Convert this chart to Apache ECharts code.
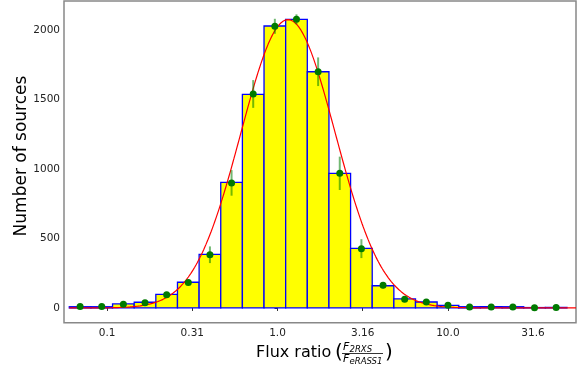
<!DOCTYPE html>
<html><head><meta charset="utf-8">
<script src="https://cdn.jsdelivr.net/npm/echarts@6/dist/echarts.min.js"></script>
<style>html,body{margin:0;padding:0;background:#fff}#c{width:581px;height:376px}</style>
</head><body><div id="c"></div>
<script>
// log10(flux ratio) bin edges
const binEdges = [-1.222, -1.095, -0.968, -0.841, -0.714, -0.587, -0.460, -0.333, -0.206, -0.079,
  0.048, 0.175, 0.302, 0.429, 0.556, 0.683, 0.810, 0.937, 1.064, 1.191, 1.318, 1.445, 1.572, 1.699];
const counts = [9, 9, 29, 41, 98, 185, 386, 904, 1537, 2029, 2077, 1700, 969, 429, 160, 65, 43, 19, 9, 10, 9, 3, 4];
const meanCounts = [11, 11, 27, 38, 96, 184, 383, 900, 1540, 2027, 2077, 1700, 969, 427, 163, 63, 43, 19, 7, 7, 7, 2, 4];
const errors = [3, 3, 5, 6, 10, 20, 60, 92, 100, 54, 36, 103, 120, 68, 22, 8, 6, 3, 2, 2, 2, 1, 1];
const xTickValues = [-1, -0.5, 0, 0.5, 1, 1.5];
const xTickLabels = ['0.1', '0.31', '1.0', '3.16', '10.0', '31.6'];
const yTickValues = [0, 500, 1000, 1500, 2000];
const yTickLabels = ['0', '500', '1000', '1500', '2000'];
// Gaussian fit parameters (in log10 space)
const fitAmplitude = 2075, fitMean = 0.062, fitSigma = 0.277;
const fitRange = [-1.222, 1.752];

const barData = counts.map((c, i) => [binEdges[i], binEdges[i + 1], c]);
const centers = counts.map((c, i) => (binEdges[i] + binEdges[i + 1]) / 2);
const errData = meanCounts.map((m, i) => [centers[i], m, errors[i]]);
const dotData = meanCounts.map((m, i) => [centers[i], m]);
const fitData = [];
for (let k = 0; k <= 400; k++) {
  const x = fitRange[0] + (fitRange[1] - fitRange[0]) * k / 400;
  fitData.push([x, fitAmplitude * Math.exp(-Math.pow(x - fitMean, 2) / (2 * fitSigma * fitSigma))]);
}
const pick = (vals, labels) => v => { const i = vals.findIndex(t => Math.abs(t - v) < 1e-6); return i >= 0 ? labels[i] : ''; };

const FONT = 'DejaVu Sans';
const chart = echarts.init(document.getElementById('c'), null, {renderer: 'canvas'});
chart.setOption({
  animation: false,
  backgroundColor: '#fff',
  grid: {left: 64, right: 5, top: 1, bottom: 53.3, show: true, borderColor: '#888', borderWidth: 1.5, backgroundColor: 'transparent'},
  xAxis: {
    type: 'value', min: -1.253, max: 1.752,
    axisLine: {show: false},
    splitLine: {show: false},
    axisTick: {show: true, customValues: xTickValues, length: 3, lineStyle: {color: '#333', width: 1}},
    axisLabel: {customValues: xTickValues, margin: 5, fontFamily: FONT, fontSize: 10.5, color: '#222',
      formatter: pick(xTickValues, xTickLabels)}
  },
  yAxis: {
    type: 'value', min: -106, max: 2209,
    axisLine: {show: false},
    splitLine: {show: false},
    axisTick: {show: true, customValues: yTickValues, length: 3, lineStyle: {color: '#333', width: 1}},
    axisLabel: {customValues: yTickValues, margin: 4, fontFamily: FONT, fontSize: 10.5, color: '#222',
      formatter: pick(yTickValues, yTickLabels)}
  },
  series: [
    {
      type: 'custom', z: 1, data: barData, encode: {x: [0, 1], y: 2},
      renderItem: (params, api) => {
        const p0 = api.coord([api.value(0), 0]);
        const p1 = api.coord([api.value(1), api.value(2)]);
        return {type: 'rect', shape: {x: p0[0], y: p1[1], width: p1[0] - p0[0], height: p0[1] - p1[1]},
          style: {fill: '#ffff00', stroke: '#0000ff', lineWidth: 1.3}};
      }
    },
    {
      type: 'line', z: 2, data: fitData, showSymbol: false, symbol: 'none', clip: true,
      lineStyle: {color: '#ff0000', width: 1.2}
    },
    {
      type: 'custom', z: 3, data: errData, encode: {x: 0, y: 1},
      renderItem: (params, api) => {
        const a = api.coord([api.value(0), api.value(1) - api.value(2)]);
        const b = api.coord([api.value(0), api.value(1) + api.value(2)]);
        return {type: 'line', shape: {x1: a[0], y1: a[1], x2: b[0], y2: b[1]},
          style: {stroke: 'rgba(0,128,0,0.55)', lineWidth: 2}};
      }
    },
    {
      type: 'scatter', z: 4, data: dotData, symbol: 'circle', symbolSize: 7,
      itemStyle: {color: '#007a00', opacity: 1}
    }
  ],
  graphic: [
    {type: 'text', x: 22, y: 156, rotation: Math.PI / 2,
      style: {text: 'Number of sources', fontFamily: FONT, fontSize: 17, fill: '#000', align: 'center', verticalAlign: 'middle'}},
    {type: 'text', x: 256, y: 353, style: {text: 'Flux ratio', fontFamily: FONT, fontSize: 16, fill: '#000', align: 'left', verticalAlign: 'middle'}},
    {type: 'text', x: 335, y: 353, style: {text: '(', fontFamily: FONT, fontSize: 20, fill: '#000', align: 'left', verticalAlign: 'middle'}},
    {type: 'text', x: 343, y: 347.5, style: {text: 'F', fontFamily: FONT, fontStyle: 'italic', fontSize: 11, fill: '#000', align: 'left', verticalAlign: 'middle'}},
    {type: 'text', x: 349.5, y: 349.5, style: {text: '2RXS', fontFamily: FONT, fontStyle: 'italic', fontSize: 8.5, fill: '#000', align: 'left', verticalAlign: 'middle'}},
    {type: 'line', shape: {x1: 342, y1: 353.5, x2: 383, y2: 353.5}, style: {stroke: '#000', lineWidth: 0.8}},
    {type: 'text', x: 343, y: 359.5, style: {text: 'F', fontFamily: FONT, fontStyle: 'italic', fontSize: 11, fill: '#000', align: 'left', verticalAlign: 'middle'}},
    {type: 'text', x: 349.5, y: 361.5, style: {text: 'eRASS1', fontFamily: FONT, fontStyle: 'italic', fontSize: 8.5, fill: '#000', align: 'left', verticalAlign: 'middle'}},
    {type: 'text', x: 385, y: 353, style: {text: ')', fontFamily: FONT, fontSize: 20, fill: '#000', align: 'left', verticalAlign: 'middle'}}
  ]
});
</script>
</body></html>
